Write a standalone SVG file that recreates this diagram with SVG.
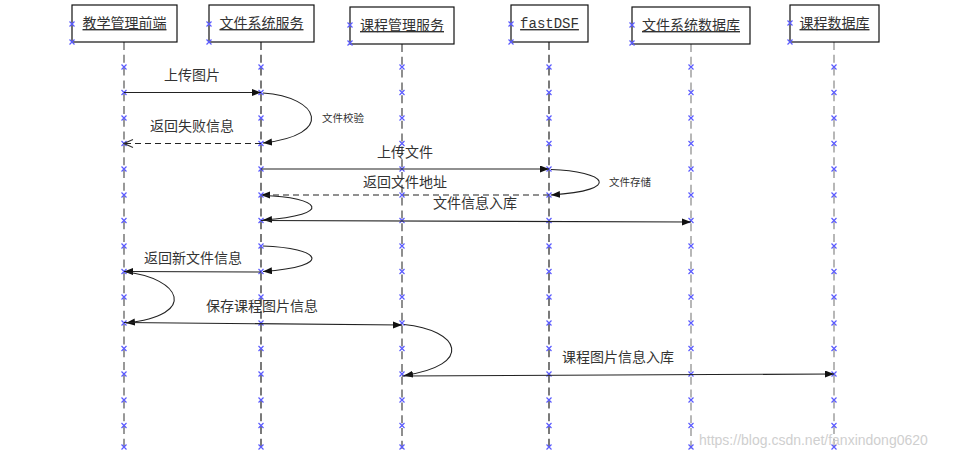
<svg xmlns="http://www.w3.org/2000/svg" xmlns:xlink="http://www.w3.org/1999/xlink" width="966" height="458" viewBox="0 0 966 458">
<style>
.box{fill:#fff;stroke:#111;stroke-width:1.2}
.title{font-family:"Noto Sans CJK SC","Liberation Serif",serif;font-size:14px;fill:#333;text-anchor:middle;text-decoration:underline}
.mono{font-family:"Liberation Mono","Noto Sans CJK SC",monospace;font-size:14px}
.life{fill:none;stroke-width:1.2;stroke-dasharray:8 4.8}
.msg{fill:none;stroke:#222;stroke-width:1.1}
.dash{stroke-dasharray:6 4}
.lbl{font-family:"Noto Sans CJK SC","Liberation Sans",sans-serif;font-size:14px;fill:#333;text-anchor:middle}
.small{font-family:"Noto Sans CJK SC","Liberation Sans",sans-serif;font-size:10.5px;fill:#333}
.wm{font-family:"Liberation Sans",Arial,sans-serif;font-size:14px;fill:#cfcfcf}
</style>
<defs>
<marker id="ah" markerUnits="userSpaceOnUse" markerWidth="10" markerHeight="8" refX="9" refY="3.5" orient="auto">
<path d="M0,0 L9,3.5 L0,7 z" fill="#111"/>
</marker>
<marker id="ao" markerUnits="userSpaceOnUse" markerWidth="11" markerHeight="10" refX="9.5" refY="4.5" orient="auto">
<path d="M0.5,0.5 L9.5,4.5 L0.5,8.5" fill="none" stroke="#333" stroke-width="1.1"/>
</marker>
<path id="x" d="M-2.5,-2.5 L2.5,2.5 M-2.5,2.5 L2.5,-2.5" stroke="#5a5aff" stroke-width="1.2" fill="none"/>
<g id="marks">
<use xlink:href="#x" y="67"/><use xlink:href="#x" y="92.5"/><use xlink:href="#x" y="118"/><use xlink:href="#x" y="143.5"/>
<use xlink:href="#x" y="169"/><use xlink:href="#x" y="195"/><use xlink:href="#x" y="220.5"/><use xlink:href="#x" y="246"/>
<use xlink:href="#x" y="271.5"/><use xlink:href="#x" y="297"/><use xlink:href="#x" y="323"/><use xlink:href="#x" y="348.5"/>
<use xlink:href="#x" y="374"/><use xlink:href="#x" y="400"/><use xlink:href="#x" y="425.5"/><use xlink:href="#x" y="447"/>
</g>
</defs>
<rect width="966" height="458" fill="#fff"/>

<g id="node-teach">
<line class="life" x1="124" y1="42" x2="124" y2="451" stroke="#555"/>
<rect class="box" x="72" y="5" width="105" height="37"/>
<text class="title" x="124.5" y="28">教学管理前端</text>
<use xlink:href="#x" x="72" y="24"/><use xlink:href="#x" x="72" y="42"/>
<use xlink:href="#marks" x="124"/>
</g>
<g id="node-filesvc">
<line class="life" x1="261" y1="42" x2="261" y2="451" stroke="#222"/>
<rect class="box" x="209" y="5" width="105" height="37"/>
<text class="title" x="261.5" y="28">文件系统服务</text>
<use xlink:href="#x" x="209" y="24"/><use xlink:href="#x" x="209" y="42"/>
<use xlink:href="#marks" x="261"/>
</g>
<g id="node-coursesvc">
<line class="life" x1="402" y1="44" x2="402" y2="451" stroke="#444"/>
<rect class="box" x="350" y="7" width="104" height="37"/>
<text class="title" x="402" y="30">课程管理服务</text>
<use xlink:href="#x" x="350" y="25"/><use xlink:href="#x" x="350" y="43"/>
<use xlink:href="#marks" x="402"/>
</g>
<g id="node-fastdsf">
<line class="life" x1="549" y1="42" x2="549" y2="451" stroke="#222"/>
<rect class="box" x="511" y="5" width="77" height="37"/>
<text class="title mono" x="549.5" y="28">fastDSF</text>
<use xlink:href="#x" x="511" y="24"/><use xlink:href="#x" x="511" y="42"/>
<use xlink:href="#marks" x="549"/>
</g>
<g id="node-filedb">
<line class="life" x1="691" y1="44" x2="691" y2="451" stroke="#888"/>
<rect class="box" x="632" y="7" width="118" height="37"/>
<text class="title" x="691" y="30">文件系统数据库</text>
<use xlink:href="#x" x="632" y="25"/><use xlink:href="#x" x="632" y="43"/>
<use xlink:href="#marks" x="691"/>
</g>
<g id="node-coursedb">
<line class="life" x1="834" y1="42" x2="834" y2="451" stroke="#888"/>
<rect class="box" x="790" y="5" width="89" height="37"/>
<text class="title" x="834.5" y="28">课程数据库</text>
<use xlink:href="#x" x="790" y="23"/><use xlink:href="#x" x="790" y="42"/>
<use xlink:href="#marks" x="834"/>
</g>

<g id="connectors">
<line class="msg" x1="124" y1="92.5" x2="261" y2="92.5" marker-end="url(#ah)"/>
<path class="msg" d="M263,93 C320,97 335,135 263,143" marker-end="url(#ah)"/>
<line class="msg dash" x1="261" y1="143.5" x2="124" y2="143.5" marker-end="url(#ao)"/>
<line class="msg" x1="261" y1="169" x2="549" y2="169" marker-end="url(#ah)"/>
<path class="msg" d="M551,169.5 C605,171 625,190 551,195" marker-end="url(#ah)"/>
<line class="msg dash" x1="549" y1="195" x2="261" y2="195" marker-end="url(#ah)"/>
<path class="msg" d="M263,195.5 C320,197 336,215 263,220" marker-end="url(#ah)"/>
<line class="msg" x1="261" y1="220.5" x2="691" y2="222" marker-end="url(#ah)"/>
<path class="msg" d="M263,246 C320,248 336,266 263,271.5" marker-end="url(#ah)"/>
<line class="msg" x1="261" y1="272" x2="124" y2="271.5" marker-end="url(#ah)"/>
<path class="msg" d="M126,272 C180,278 200,315 126,323" marker-end="url(#ah)"/>
<line class="msg" x1="124" y1="322.5" x2="402" y2="325" marker-end="url(#ah)"/>
<path class="msg" d="M404,324.5 C460,330 475,365 404,375.5" marker-end="url(#ah)"/>
<line class="msg" x1="402" y1="376" x2="834" y2="374" marker-end="url(#ah)"/>
</g>

<g id="labels">
<text class="lbl" x="192" y="80">上传图片</text>
<text class="small" x="322" y="122">文件校验</text>
<text class="lbl" x="192" y="131">返回失败信息</text>
<text class="lbl" x="405" y="157">上传文件</text>
<text class="small" x="609" y="186">文件存储</text>
<text class="lbl" x="405" y="187">返回文件地址</text>
<text class="lbl" x="475" y="208">文件信息入库</text>
<text class="lbl" x="193" y="263">返回新文件信息</text>
<text class="lbl" x="262" y="311">保存课程图片信息</text>
<text class="lbl" x="618" y="362">课程图片信息入库</text>
</g>
<text class="wm" x="699" y="445">https://blog.csdn.net/fanxindong0620</text>
</svg>
